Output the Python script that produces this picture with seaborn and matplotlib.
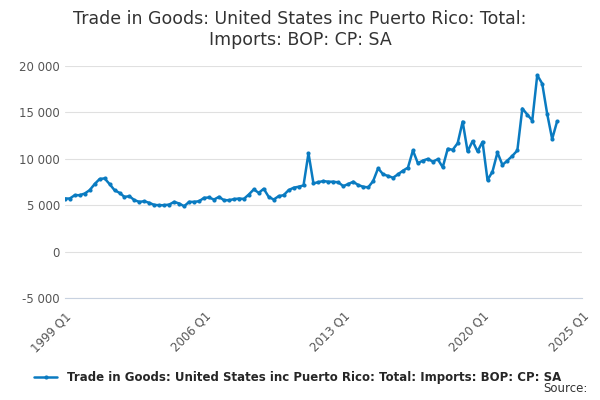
import numpy as np
import pandas as pd
import matplotlib
matplotlib.use("Agg")
import matplotlib.pyplot as plt
import seaborn as sns
from matplotlib.ticker import FuncFormatter

# quarterly values, 1999 Q1 onwards
values = [
    5720, 5720, 6080, 6080, 6260, 6620, 7280, 7820, 7890, 7280,
    6620, 6330, 5900, 5970, 5540, 5360, 5430, 5250, 5030, 5000,
    5000, 5070, 5360, 5180, 4890, 5360, 5360, 5430, 5790, 5830,
    5610, 5900, 5540, 5540, 5650, 5720, 5680, 6150, 6700, 6330,
    6770, 5900, 5610, 5970, 6080, 6620, 6880, 6990, 7130, 10600,
    7350, 7490, 7600, 7530, 7530, 7460, 7060, 7280, 7530, 7170,
    6990, 6920, 7600, 8980, 8330, 8150, 7960, 8330, 8720, 9050,
    10900, 9520, 9810, 9990, 9700, 9950, 9090, 11080, 10970, 11690,
    14010, 10790, 11910, 10790, 11840, 7710, 8620, 10680, 9340, 9810,
    10320, 10900, 15420, 14770, 14120, 19010, 18100, 14840, 12130, 14050,
]
series_name = "Trade in Goods: United States inc Puerto Rico: Total: Imports: BOP: CP: SA"
tick_labels = {0: "1999 Q1", 28: "2006 Q1", 56: "2013 Q1", 84: "2020 Q1", 104: "2025 Q1"}

df = pd.DataFrame({"q": np.arange(len(values)), "value": values})

sns.set_style("white")
plt.rcParams['font.family'] = ['DejaVu Sans']
fig, ax = plt.subplots(figsize=(6, 4), dpi=100)
fig.subplots_adjust(left=0.108, right=0.97, top=0.835, bottom=0.255)

sns.lineplot(data=df, x="q", y="value", ax=ax, color="#0a7bc1", lw=1.8,
             marker="o", markersize=3, markeredgewidth=0, label=series_name)

ax.set_xlim(0, 104)
ax.set_ylim(-5000, 20000)
ax.set_yticks(np.arange(-5000, 20001, 5000))
ax.yaxis.set_major_formatter(FuncFormatter(lambda v, p: f"{int(v):,}".replace(",", " ")))
ax.grid(axis="y", color="#e0e0e0", lw=0.8)
xt = list(np.arange(0, 104, 7)) + [104]
ax.set_xticks(xt)
ax.set_xticklabels([tick_labels.get(int(t), "") for t in xt], rotation=45, ha="right",
                   rotation_mode="anchor", fontsize=8.5, color="#555555")
ax.tick_params(axis="x", length=5, color="#c8d2e0")
ax.tick_params(axis="y", length=0, labelsize=8.5, labelcolor="#555555")
for s in ["top", "right", "left"]:
    ax.spines[s].set_visible(False)
ax.spines["bottom"].set_color("#c8d2e0")
ax.set_xlabel("")
ax.set_ylabel("")

fig.suptitle("Trade in Goods: United States inc Puerto Rico: Total:\nImports: BOP: CP: SA",
             fontsize=12.5, color="#333333", y=0.975)
leg = ax.legend(loc="upper center", bbox_to_anchor=(0.45, -0.27), frameon=False,
                fontsize=8.5, handlelength=2, prop={"weight": "bold", "size": 8.5})
fig.text(0.98, 0.02, "Source:", ha="right", fontsize=8.5, color="#333333")

plt.savefig("out.png", dpi=100)
